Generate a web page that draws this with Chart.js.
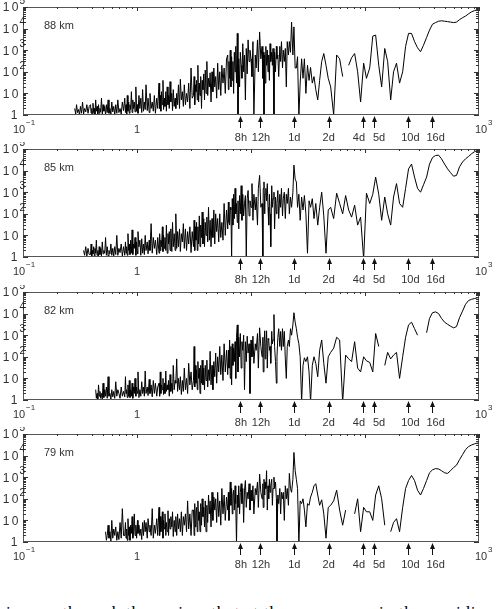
<!DOCTYPE html>
<html>
<head>
<meta charset="utf-8">
<script src="https://cdn.jsdelivr.net/npm/chart.js@4.4.0/dist/chart.umd.min.js"></script>
<style>
  html, body { margin: 0; padding: 0; background: #fff; }
  body { width: 496px; height: 609px; position: relative; overflow: hidden; }
  canvas { position: absolute; left: 0; }
  .cut-text { position: absolute; left: 6px; top: 603px; font: 17px 'Liberation Serif', serif; color: #000; white-space: nowrap; letter-spacing: 0.8px; }
</style>
</head>
<body>
<canvas id="panel0" width="496" height="150" style="top:0px"></canvas>
<canvas id="panel1" width="496" height="150" style="top:142px"></canvas>
<canvas id="panel2" width="496" height="150" style="top:285px"></canvas>
<canvas id="panel3" width="496" height="150" style="top:427px"></canvas>
<div class="cut-text">is seen through the regime that at the mesopause in the meridional wind and</div>
<script>
// period of each periodogram point, in hours
const periodHours = [
  0.279, 0.284, 0.290, 0.295, 0.301, 0.307, 0.313, 0.319, 0.326, 0.333, 0.340, 0.347, 0.355, 0.363, 0.372, 0.381,
  0.391, 0.396, 0.401, 0.406, 0.411, 0.417, 0.423, 0.428, 0.434, 0.440, 0.446, 0.453, 0.460, 0.466, 0.473, 0.480, 0.488, 0.496, 0.504, 0.512,
  0.521, 0.530, 0.539, 0.548, 0.558, 0.568, 0.579, 0.590, 0.601, 0.613, 0.625, 0.638, 0.651, 0.665, 0.679, 0.694, 0.710, 0.727, 0.744, 0.762,
  0.781, 0.792, 0.801, 0.812, 0.822, 0.833, 0.845, 0.856, 0.868, 0.880, 0.893, 0.906, 0.919, 0.933, 0.947, 0.961, 0.977, 0.992, 1.01, 1.02,
  1.04, 1.06, 1.08, 1.10, 1.12, 1.14, 1.16, 1.18, 1.20, 1.23, 1.25, 1.28, 1.30, 1.33, 1.36, 1.39, 1.42, 1.45, 1.49, 1.52,
  1.56, 1.58, 1.60, 1.62, 1.64, 1.67, 1.69, 1.71, 1.74, 1.76, 1.79, 1.81, 1.84, 1.87, 1.89, 1.92, 1.95, 1.98, 2.02, 2.05,
  2.08, 2.12, 2.16, 2.19, 2.23, 2.27, 2.31, 2.36, 2.40, 2.45, 2.50, 2.55, 2.60, 2.66, 2.72, 2.78, 2.84, 2.91, 2.98, 3.05,
  3.13, 3.17, 3.21, 3.25, 3.29, 3.33, 3.38, 3.42, 3.47, 3.52, 3.57, 3.62, 3.68, 3.73, 3.79, 3.85, 3.91, 3.97, 4.03, 4.10,
  4.17, 4.24, 4.31, 4.38, 4.46, 4.55, 4.63, 4.72, 4.81, 4.90, 5.00, 5.10, 5.21, 5.32, 5.43, 5.55, 5.68, 5.81, 5.95, 6.10,
  6.25, 6.33, 6.41, 6.49, 6.58, 6.67, 6.76, 6.85, 6.94, 7.04, 7.14, 7.25, 7.35, 7.46, 7.58, 7.69, 7.81, 7.94, 8.06, 8.20,
  8.33, 8.47, 8.62, 8.77, 8.93, 9.09, 9.26, 9.43, 9.62, 9.80, 10.0, 10.2, 10.4, 10.6, 10.9, 11.1, 11.4, 11.6, 11.9, 12.2,
  12.5, 12.7, 12.8, 13.0, 13.2, 13.3, 13.5, 13.7, 13.9, 14.1, 14.3, 14.5, 14.7, 14.9, 15.2, 15.4, 15.6, 15.9, 16.1, 16.4,
  16.7, 16.9, 17.2, 17.5, 17.9, 18.2, 18.5, 18.9, 19.2, 19.6, 20.0, 20.4, 20.8, 21.3, 21.7, 22.2, 22.7, 23.3, 23.8, 24.4,
  25.0, 25.6, 26.3, 27.0, 27.8, 28.6, 29.4, 30.3, 31.3, 32.3, 33.3, 34.5, 35.7, 37.0, 38.5, 40.0, 41.7, 43.5, 45.5, 47.6,
  50.0, 53.1, 56.4, 59.9, 63.7, 67.6, 71.9, 76.3, 81.1, 86.2, 91.5, 97.3, 103, 110, 117, 124, 132, 140, 149, 158,
  168, 178, 189, 201, 214, 227, 241, 256, 272, 289, 307, 326, 347, 368, 391, 416, 442, 469, 499, 530,
  563, 598, 635, 675, 717, 762, 809, 860, 914, 971, 1000
];

const power88 = [
  null, 2, 1.1, 3, 1.3, 1.8, 1, 2.5, 1.2, 4, 1.1, 2, 1.4, 3, 1.2, 2.5,
  3, 1.2, 2, 1, 3.5, 1.3, 2, 1.1, 5, 1.5, 2.5, 1, 3, 1.2, 2, 1.4, 6, 1.1, 3, 1.5,
  2.5, 1, 3, 1.3, 5, 1.2, 2, 1.1, 4, 1.4, 2.5, 1, 3, 1.2, 5, 1.3, 2, 1.1, 4, 1.6,
  6, 1.3, 3, 1.1, 8, 1.5, 4, 1.2, 3, 1.8, 12, 1.3, 5, 2, 4, 1.4, 20, 1.5, 3, 1.2,
  8, 2, 6, 1.3, 15, 1.5, 4, 1.8, 25, 1.6, 6, 1.3, 10, 2, 4, 1.5, 8, 1.2, 6, 2,
  30, 2, 8, 1.5, 12, 3, 40, 1.8, 6, 2.5, 12, 1.5, 20, 3, 8, 2, 35, 4, 10, 1.6,
  15, 2.5, 6, 2, 10, 3, 25, 2, 45, 5, 12, 2.5, 25, 3, 10, 4, 30, 2, 150, 6,
  8, 60, 3, 25, 12, 40, 5, 200, 4, 30, 8, 60, 2, 40, 15, 80, 5, 120, 10, 300,
  8, 50, 20, 90, 4, 100, 12, 150, 20, 60, 6, 250, 15, 100, 8, 200, 30, 150, 10, 400,
  600, 15, 300, 50, 1000, 20, 500, 40, 300, 10, 800, 100, 1500, 30, 6000, 0.8, 400, 20, 800, 200,
  50, 2000, 100, 600, 5, 1200, 80, 3000, 300, 1000, 400, 60, 2500, 0.8, 600, 150, 3000, 100, 7000, 400,
  1500, 50, 800, 0.8, 600, 30, 1500, 200, 1000, 100, 600, 40, 2000, 300, 800, 200, 1200, 0.9, 800, 100,
  1500, 400, 600, 60, 1500, 300, 2500, 150, 1000, 300, 1200, 20, 2500, 600, 2500, 800, 20000, 600, 12000, 150,
  150, 500, 0.8, 30, 400, 50, 400, 10, 200, 40, 160, 30, 60, 15, 5, 40, 300, 700, 200, 50,
  20, 1, 600, 400, 60, null, 200, 450, 700, 100, 4, 250, 50, 150, 4500, 5000, 200, 20, 1200, 300,
  5, 100, 250, 30, 100, 1500, 6000, 6000, 2500, 1300, 850, 1700, 3900, 8500, 16000, 19000, 22000, 23000, 22000, 21000,
  20000, 19000, 20000, 26000, 32000, 38000, 48000, 60000, 68000, 74000, 78000
];

const power85 = [
  null, null, null, null, null, null, null, null, null, null, 2, 1.2, 3, 1.1, 2.5, 1.3,
  1.3, 4, 1.1, 2, 1.4, 3, 1.1, 2.5, 1.5, 6, 1.2, 2, 1.1, 3, 1.3, 2.5, 1.1, 5, 1.4, 2,
  1.5, 8, 1.2, 3, 1.1, 2, 1.4, 4, 1.2, 2.5, 1.1, 3, 1.3, 10, 1.2, 2.5, 1.6, 4, 1.1, 3,
  1.2, 5, 1.5, 3, 1.2, 12, 2, 4, 1.3, 6, 1.5, 18, 1.3, 4, 2.5, 8, 1.2, 5, 1.4, 15,
  3, 6, 1.2, 7, 1.5, 4, 1.3, 10, 2, 5, 1.4, 6, 2, 35, 1.5, 8, 2.5, 6, 1.3, 8,
  1.5, 12, 2, 6, 3, 25, 1.8, 10, 2.5, 8, 2, 30, 1.5, 12, 4, 15, 2, 20, 1.8, 40,
  3, 12, 2, 100, 2.5, 15, 3, 20, 1.8, 12, 5, 35, 2.5, 20, 2, 15, 4, 25, 1.6, 15,
  3, 50, 2, 25, 6, 40, 2, 25, 4, 80, 3, 30, 8, 120, 4, 60, 3, 40, 10, 70,
  5, 200, 6, 50, 3, 60, 8, 150, 4, 100, 15, 60, 5, 100, 8, 40, 6, 300, 10, 150,
  20, 350, 40, 30, 200, 150, 0.8, 500, 30, 800, 60, 1500, 100, 300, 40, 400, 20, 700, 100, 2000,
  50, 800, 80, 300, 700, 1, 500, 1200, 80, 400, 200, 2500, 50, 800, 150, 600, 30, 1500, 6000, 200,
  300, 0.7, 1500, 3000, 100, 800, 1500, 400, 2500, 200, 30, 800, 100, 3, 2000, 200, 500, 1000, 20, 600,
  100, 300, 1200, 60, 800, 200, 1500, 80, 500, 1000, 60, 800, 300, 1500, 100, 600, 200, 1000, 18000, 4000,
  3000, 200, 800, 50, 600, 150, 700, 100, 1.5, 400, 200, 500, 60, 300, 30, 200, 1000, 80, 1.5, 150,
  200, 60, 900, 300, 100, 700, 150, 70, 250, 30, 70, 0.8, 900, 300, 800, 5000, 800, 50, 600, 100,
  30, 600, 2500, 300, 200, 1500, 12000, 20000, 5000, 1500, 1000, 2200, 5000, 20000, 40000, 50000, 52000, 35000, 20000, 12000,
  8000, 5500, 6000, 15000, 25000, 35000, 45000, 60000, 75000, 85000, 90000
];

const power82 = [
  null, null, null, null, null, null, null, null, null, null, null, null, null, null, null, null,
  null, null, null, null, null, null, null, null, 3, 1.2, 2, 1.1, 5, 1.5, 2.5, 1.2, 2, 1.1, 6, 1.3,
  3, 1.5, 4, 1.2, 12, 1.5, 2, 1.1, 3, 1.4, 2.5, 1.2, 7, 1.5, 3, 2, 1.2, 4, 1.5, 2.5,
  1.4, 12, 2, 3, 1.3, 5, 1.5, 8, 1.3, 3, 1.5, 6, 1.2, 4, 2, 10, 1.5, 4, 2, 20,
  1.3, 3, 1.5, 7, 2, 4, 1.5, 22, 2, 4, 1.6, 9, 2, 5, 1.4, 8, 2, 6, 1.5, 4,
  6, 1.5, 20, 2, 5, 3, 10, 1.8, 6, 2, 22, 2.5, 5, 3, 8, 1.5, 15, 2.5, 6, 2,
  40, 3, 8, 6, 80, 2.5, 10, 3, 12, 1.8, 8, 2.5, 30, 3, 10, 2, 50, 5, 20, 3,
  8, 300, 4, 40, 6, 25, 3, 60, 10, 30, 2, 40, 6, 70, 5, 30, 3, 40, 8, 70,
  4, 25, 8, 180, 5, 40, 3, 60, 12, 150, 6, 100, 20, 300, 15, 120, 8, 400, 20, 200,
  15, 200, 30, 600, 10, 300, 5, 400, 40, 250, 60, 500, 10, 800, 3000, 20, 800, 100, 1200, 30,
  500, 200, 1000, 3, 500, 60, 900, 150, 400, 2, 600, 100, 900, 50, 400, 200, 1200, 30, 2200, 300,
  100, 800, 20, 400, 1600, 80, 300, 1600, 30, 700, 600, 200, 300, 50, 1500, 400, 600, 9000, 300, 60,
  6, 100, 800, 2000, 300, 1500, 200, 2000, 300, 1500, 80, 10, 300, 600, 300, 2000, 1000, 3000, 11000, 4000,
  2000, 800, 400, 100, 0.8, 40, 90, 60, 100, 20, 0.8, 40, 100, 50, 12, 200, 600, 50, 6, 100,
  160, 250, 800, 600, 0.8, 120, 80, 60, 500, 30, 20, 100, 65, 55, 20, 1200, 300, null, 40, 160,
  80, 120, 160, 10, 100, 800, 3000, 4000, 2000, 1000, null, null, 1300, 6000, 11000, 12000, 10000, 6000, 4000, 3200,
  2600, 2200, 2500, 6500, 13000, 27000, 40000, 46000, 50000, 54000, 57000
];

const power79 = [
  null, null, null, null, null, null, null, null, null, null, null, null, null, null, null, null,
  null, null, null, null, null, null, null, null, null, null, null, null, null, null, null, null, null, null, null, null,
  null, 3, 1.2, 2, 6, 1.5, 3, 1.1, 10, 1.5, 4, 2, 5, 1.2, 3, 1.3, 8, 1.5, 35, 2,
  2, 8, 1.5, 4, 1.2, 12, 2, 5, 1.2, 6, 2.5, 15, 1.5, 3, 20, 2, 6, 1.5, 10, 2.5,
  6, 2, 4, 1.3, 8, 2, 10, 3, 8, 1.5, 12, 3, 6, 2, 35, 1.5, 6, 2.5, 12, 2,
  40, 2, 15, 3, 6, 25, 1.5, 10, 4, 20, 2, 8, 3, 28, 2, 12, 4, 15, 5, 25,
  1.8, 10, 3, 15, 2, 20, 4, 12, 3, 25, 2, 15, 6, 20, 3, 80, 4, 20, 2, 30,
  30, 2, 60, 5, 20, 40, 3, 80, 10, 25, 3, 60, 6, 100, 15, 40, 5, 80, 3, 50,
  8, 150, 20, 80, 5, 200, 10, 120, 30, 100, 8, 200, 15, 80, 6, 300, 20, 150, 10, 120,
  30, 200, 10, 100, 600, 50, 300, 20, 150, 250, 30, 400, 60, 0.8, 150, 40, 400, 20, 200, 500,
  60, 300, 8, 250, 700, 40, 200, 100, 500, 30, 250, 80, 400, 20, 300, 150, 600, 40, 1400, 200,
  100, 500, 40, 800, 150, 600, 300, 2000, 30, 400, 100, 800, 200, 400, 800, 50, 300, 1000, 300, 600,
  100, 0.8, 150, 60, 300, 20, 200, 100, 200, 10, 400, 100, 300, 50, 1500, 300, 200, 800, 14000, 2000,
  800, 300, 0.8, 80, 60, 100, 30, 5, 60, 50, 120, 200, 400, 500, 150, 50, 90, 20, 1.5, 40,
  50, 80, 250, 30, 6, 30, null, null, 20, 100, 3, 40, 25, 25, 10, 150, 400, 100, 6, null,
  3, 8, 12, 3, 40, 300, 700, 1200, 700, 250, 150, 300, 700, 1600, 2200, 2500, 2400, 2000, 1600, 1500,
  2000, 2800, 3600, 6500, 11000, 19000, 26000, 31000, 35000, 38000, 40000
];

const panelLabels = ['88 km', '85 km', '82 km', '79 km'];
const panelPower = [power88, power85, power82, power79];
const markerHours = [8, 12, 24, 48, 96, 120, 240, 384];
const markerLabels = ['8h', '12h', '1d', '2d', '4d', '5d', '10d', '16d'];
const xTickValues = [0.1, 1, 1000];
const yTickValues = [1, 10, 100, 1000, 10000, 100000];

// label nudges so crowded labels sit like the original
const markerShift = [1, 1, 0, 0, -4, 5, 2, 4];
const xLabelShift = [-4, 0, 2];
const FONT = "'Liberation Sans', Arial, sans-serif";
const TEXT = '#333';

function splitPower(v) {
  const e = Math.round(Math.log10(v));
  if (e === 0) return ['1', ''];
  if (e === 1) return ['10', ''];
  return ['10', e < 0 ? '\u2212' + (-e) : String(e)];
}

const framePlugin = {
  id: 'frame',
  afterDatasetsDraw(chart, args, opts) {
    const { ctx, chartArea: a, scales: { x, y } } = chart;
    ctx.save();

    // box
    ctx.strokeStyle = '#555';
    ctx.lineWidth = 1;
    ctx.strokeRect(a.left + 0.5, a.top + 0.5, a.right - a.left - 1, a.bottom - a.top - 1);

    // inward log ticks on the left / right edges
    ctx.strokeStyle = '#333';
    ctx.beginPath();
    for (let d = 0; d <= 5; d++) {
      for (let m = 1; m <= 9; m++) {
        const v = m * Math.pow(10, d);
        if (v > 100000) break;
        const py = Math.round(y.getPixelForValue(v)) + 0.5;
        const len = m === 1 ? 5 : 3;
        ctx.moveTo(a.left, py); ctx.lineTo(a.left + len, py);
        ctx.moveTo(a.right - len, py); ctx.lineTo(a.right, py);
      }
    }
    // top edge
    for (let d = -1; d <= 3; d++) {
      for (let m = 1; m <= 9; m++) {
        const v = m * Math.pow(10, d);
        if (v > 1000) break;
        const px = Math.round(x.getPixelForValue(v)) + 0.5;
        const len = m === 1 ? 4 : 2;
        ctx.moveTo(px, a.top); ctx.lineTo(px, a.top + len);
      }
    }
    ctx.stroke();

    ctx.fillStyle = TEXT;
    ctx.textBaseline = 'middle';
    ctx.textAlign = 'center';

    // y labels (digits set apart like the original)
    yTickValues.forEach((v) => {
      const [base, sup] = splitPower(v);
      const py = y.getPixelForValue(v) + 1;
      ctx.font = '12px ' + FONT;
      ctx.textAlign = 'center';
      if (base === '1') {
        ctx.fillText('1', 14, py);
      } else {
        ctx.fillText('1', 6, py);
        ctx.fillText('0', 15, py);
      }
      if (sup) {
        ctx.font = '10px ' + FONT;
        ctx.textAlign = 'left';
        ctx.fillStyle = '#222';
        ctx.fillText(sup, 19.5, py - 7);
        ctx.fillStyle = TEXT;
      }
    });

    // x labels
    xTickValues.forEach((v, i) => {
      const [base, sup] = splitPower(v);
      const px = x.getPixelForValue(v) + xLabelShift[i];
      const py = a.bottom + 15;
      ctx.font = '11px ' + FONT;
      ctx.textAlign = 'center';
      ctx.fillText(base, px, py);
      if (sup) {
        ctx.font = '8px ' + FONT;
        ctx.textAlign = 'left';
        ctx.fillText(sup, px + 7, py - 7);
      }
    });

    // period markers
    ctx.strokeStyle = '#111';
    ctx.fillStyle = '#111';
    markerHours.forEach((h) => {
      const px = Math.round(x.getPixelForValue(h)) + 0.5;
      const tip = a.bottom + 1;
      ctx.beginPath();
      ctx.moveTo(px, tip + 5);
      ctx.lineTo(px, tip + 12);
      ctx.stroke();
      ctx.beginPath();
      ctx.moveTo(px, tip);
      ctx.lineTo(px - 2.5, tip + 6);
      ctx.lineTo(px + 2.5, tip + 6);
      ctx.closePath();
      ctx.fill();
    });
    ctx.fillStyle = TEXT;
    ctx.font = '11px ' + FONT;
    ctx.textAlign = 'center';
    markerHours.forEach((h, i) => {
      const px = x.getPixelForValue(h) + markerShift[i];
      ctx.fillText(markerLabels[i], px, a.bottom + 23);
    });

    // altitude label
    ctx.textAlign = 'left';
    ctx.fillText(opts.label, 44, a.top + 19);

    ctx.restore();
  }
};

panelLabels.forEach((label, i) => {
  const canvas = document.getElementById('panel' + i);
  new Chart(canvas, {
    type: 'line',
    data: {
      datasets: [{
        data: periodHours.map((p, k) => ({ x: p, y: panelPower[i][k] })),
        borderColor: '#000',
        borderWidth: 1,
        pointRadius: 0,
        spanGaps: false,
        tension: 0
      }]
    },
    options: {
      responsive: false,
      animation: false,
      devicePixelRatio: 1,
      events: [],
      layout: { padding: { left: 23, right: 17, top: 7, bottom: 35 } },
      scales: {
        x: { type: 'logarithmic', min: 0.1, max: 1000, display: false },
        y: { type: 'logarithmic', min: 1, max: 100000, display: false }
      },
      plugins: {
        legend: { display: false },
        tooltip: { enabled: false },
        frame: { label: label }
      }
    },
    plugins: [framePlugin]
  });
});
</script>
</body>
</html>
